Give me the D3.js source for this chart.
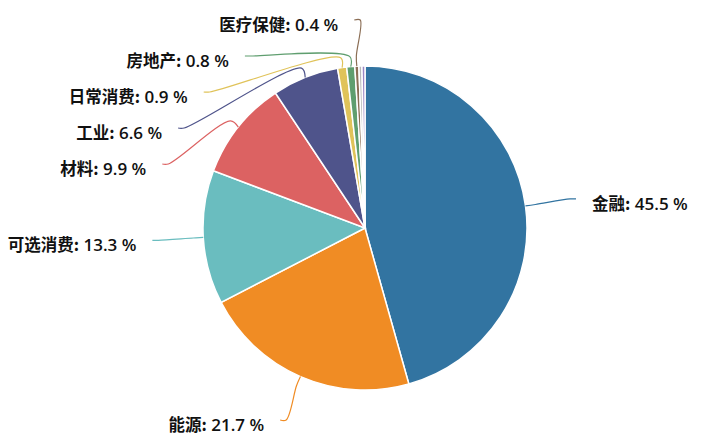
<!DOCTYPE html>
<html>
<head>
<meta charset="utf-8">
<style>
    body {
        margin: 0;
        background: #fff;
    }

    svg {
        display: block;
    }

    .label {
        font-family: "Open Sans", "Noto Sans CJK SC", sans-serif;
        font-size: 17px;
        font-weight: 600;
        fill: #111;
    }

    .label .name {
        font-family: "Noto Sans CJK SC", sans-serif;
        font-size: 16.5px;
        font-weight: bold;
    }
</style>
</head>
<body>
<svg width="714" height="438"></svg>

<script src="https://d3js.org/d3.v7.min.js"></script>
<script>
    // sector shares (%), in drawing order, clockwise from 12 o'clock
    let sectors = ["金融", "能源", "可选消费", "材料", "工业", "日常消费", "房地产", "医疗保健", "信息技术", "通信服务"]
    let shares = [45.5, 21.7, 13.3, 9.9, 6.6, 0.9, 0.8, 0.4, 0.3, 0.3]
    let colors = ["#3274a1", "#f08c24", "#6abdbf", "#dc6262", "#4f548b",
        "#e0c35a", "#5f9e6f", "#8b6e55", "#b8b8b8", "#9c86c4"]
    let minLabelShare = 0.4   // smaller slices get no label

    let width = 714
    let height = 438
    let cx = 365
    let cy = 228
    let radius = 162
    let bendLen = 10        // first piece of the label line
    let labelR = radius + 51
    let labelGap = 36
    let labelTop = 20
    let labelBottom = height - 18

    let svg = d3.select("svg")

    let data = sectors.map(function (s, i) {
        return { name: s, share: shares[i], color: colors[i] }
    })

    let pie = d3.pie()
        .sort(null)
        .value(d => d.share)

    let arc = d3.arc()
        .innerRadius(0)
        .outerRadius(radius)

    let arcs = pie(data)

    let g = svg.append("g")
        .attr("transform", `translate(${cx},${cy})`)

    g.selectAll(".slice")
        .data(arcs)
        .join("path")
        .attr("class", "slice")
        .attr("d", arc)
        .style("fill", d => d.data.color)
        .style("stroke", "#fff")
        .style("stroke-width", "1.5px")

    // label layout: start on the label circle, stack each side, then pull x back onto an ellipse
    let labels = arcs.filter(d => d.data.share >= minLabelShare).map(function (d) {
        let a = (d.startAngle + d.endAngle) / 2
        return {
            d: d,
            a: a,
            side: Math.sin(a) < 0 ? -1 : 1,
            y: -labelR * Math.cos(a),
            nx: labelR * Math.abs(Math.sin(a))
        }
    })

    let minY = labelTop - cy
    let maxY = labelBottom - cy

    ;[-1, 1].forEach(function (side) {
        let items = labels.filter(l => l.side == side).sort((p, q) => p.y - q.y)
        let n = items.length
        items.forEach(function (l, i) {
            l.y = Math.max(l.y, minY)
            if (i > 0) l.y = Math.max(l.y, items[i - 1].y + labelGap)
        })
        for (let i = n - 1; i >= 0; i--) {
            items[i].y = Math.min(items[i].y, maxY)
            if (i < n - 1) items[i].y = Math.min(items[i].y, items[i + 1].y - labelGap)
        }
        // upper and lower half each get their own ellipse
        ;[items.filter(l => l.y < 0), items.filter(l => l.y >= 0)].forEach(function (semi) {
            if (!semi.length) return
            let far = semi.reduce((p, q) => Math.abs(q.y) > Math.abs(p.y) ? q : p)
            let k = 1 - (far.nx / labelR) * (far.nx / labelR)
            let rB = k > 0.0001 ? Math.abs(far.y) / Math.sqrt(k) : labelR
            semi.forEach(function (l) {
                let t = 1 - (l.y * l.y) / (rB * rB)
                l.x = side * labelR * Math.sqrt(Math.max(t, 0))
            })
        })
    })

    let line = d3.line()
        .curve(d3.curveCatmullRom.alpha(0.5))

    g.selectAll(".label-line")
        .data(labels)
        .join("path")
        .attr("class", "label-line")
        .attr("d", function (l) {
            let s = Math.sin(l.a), c = Math.cos(l.a)
            return line([
                [radius * s, -radius * c],
                [(radius + bendLen) * s, -(radius + bendLen) * c],
                [l.x - l.side * 6, l.y],
                [l.x, l.y]
            ])
        })
        .style("fill", "none")
        .style("stroke", l => l.d.data.color)
        .style("stroke-width", "1.2px")

    let text = g.selectAll(".label")
        .data(labels)
        .join("text")
        .attr("class", "label")
        .attr("x", l => l.x + l.side * 16)
        .attr("y", l => l.y + 4)
        .attr("dominant-baseline", "central")
        .attr("text-anchor", l => l.side < 0 ? "end" : "start")

    text.append("tspan")
        .attr("class", "name")
        .text(l => l.d.data.name + ":")

    text.append("tspan")
        .text(l => " " + d3.format(".1f")(l.d.data.share) + " %")
</script>
</body>
</html>
